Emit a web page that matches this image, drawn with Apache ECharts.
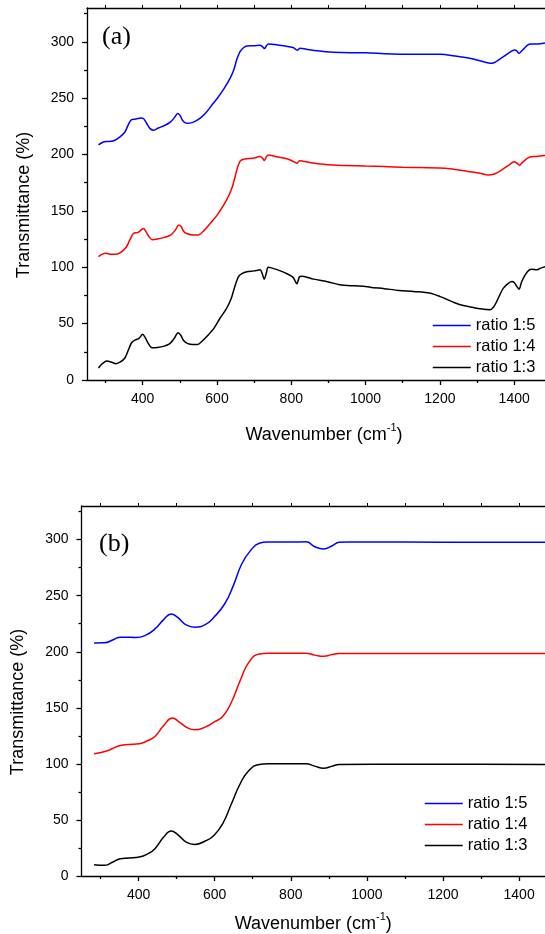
<!DOCTYPE html>
<html>
<head>
<meta charset="utf-8">
<script src="https://cdn.jsdelivr.net/npm/echarts@6/dist/echarts.min.js"></script>
<style>
  html, body { margin: 0; padding: 0; background: #fff; }
  #main { width: 545px; height: 934px; }
</style>
</head>
<body>
<div id="main"></div>
<script>
// 图例名称
var seriesNames = ['ratio 1:5', 'ratio 1:4', 'ratio 1:3'];
var seriesColors = ['#0000ff', '#ff0000', '#000000'];

// 刻度
var xMajorTicks = [400, 600, 800, 1000, 1200, 1400];
var xMinorTicks = [300, 500, 700, 900, 1100, 1300];
var xTopTicks = [300, 400, 500, 600, 700, 800, 900, 1000, 1100, 1200, 1300, 1400];
var yMajorTicks = [0, 50, 100, 150, 200, 250, 300];
var yMinorTicks = [25, 75, 125, 175, 225, 275, 325];

// (a) 数据 [波数, 透过率]
var aRatio15 = [[281,208.5],[290,210.5],[300,211.5],[320,212],[338,215.5],[352,220],[362,227],[370,231],[382,231.5],[395,232.5],[402,232],
  [410,228],[420,223],[430,221.5],[442,223.5],[460,226],[475,229],[486,233],[494,236.5],[500,235],[508,230],[518,227.7],[535,228.5],
  [554,232],[570,237],[590,245.5],[601,250],[618,258],[635,267.5],[645,275],[653,284],[662,291.3],[672,295],[680,296.3],[700,296.5],
  [716,297],[723,295.5],[728,294],[733,296.5],[738,298],[760,297.5],[780,296.5],[805,295],[811,293.5],[816,292.5],[824,294.3],
  [840,293.5],[870,292],[913,290.7],[960,290.3],[1000,290.3],[1050,289.5],[1100,289],[1147,289],[1201,289],[1240,287.5],[1280,285.5],
  [1310,283],[1340,281],[1365,285.5],[1385,290],[1401,292.8],[1407,292],[1413,289.8],[1422,292.5],[1443,298],[1460,298],[1484,299]];
var aRatio14 = [[281,109.5],[290,111.5],[300,112.5],[315,111.5],[328,111.5],[342,113.5],[355,117.5],[365,124],[375,130],[388,131],
  [402,134.5],[408,132],[415,128],[425,124.5],[440,125],[458,126.5],[475,128.5],[488,133],[497,137.5],[504,136],[510,132],[518.5,130],
  [535,128.7],[549,128.7],[565,132.5],[581,138.6],[600,146],[626,159.8],[640,170],[650,182],[656,189.3],[663,194.5],[675,196],
  [700,197],[716,198.2],[722,197],[727.5,194.7],[733,198],[738,199.7],[760,198],[790,196],[808,193.5],[815,192.3],[822,194.5],
  [850,193],[880,191.7],[913,190.8],[1000,189.8],[1050,189.3],[1100,188.8],[1147,188.4],[1215,187.8],[1250,186.3],[1275,185],
  [1308,183.4],[1330,181.8],[1345,182.5],[1365,186],[1385,190.5],[1400,193.5],[1407,192.5],[1414,190.5],[1422,193],[1440,197.5],
  [1460,198.3],[1484,199.2]];
var aRatio13 = [[281,10.5],[288,13.5],[295,15.5],[303,16.8],[315,16],[328,14.5],[340,16],[352,19.5],[362,27],[370,33],[380,35.5],
  [390,37],[400,40.5],[406,38],[414,33],[425,28.5],[440,28.8],[456,29.8],[472,32],[485,37],[495,42],[502,40],[510,35],[520,32.5],
  [535,31.5],[548,31.5],[560,34.5],[575,39.5],[592,46],[608,54.8],[625,63],[638,72],[648,83],[658,91.7],[668,94.5],[680,96],
  [700,96.8],[716,97.7],[722,94],[727,89.4],[733,95],[738,100.1],[765,97.5],[790,94],[805,91],[810,88],[815,85.3],[822,91.5],
  [830,92],[860,89.5],[900,87],[930,84.5],[970,83.5],[1000,83],[1012,82.3],[1050,81],[1090,79.5],[1129,78.5],[1174,77],[1201,74],
  [1219,71.5],[1240,68.5],[1263,66],[1290,64.3],[1308,63.2],[1335,62.3],[1345,65],[1353,69.6],[1362,76],[1371,81.5],[1385,86],
  [1394,87.3],[1400,86.5],[1407,83],[1413,80.5],[1420,87],[1430,93.5],[1440,97.5],[1448,98.3],[1461,97.7],[1470,99],[1484,100.5]];

// (b) 数据
var bRatio15 = [[283,207.9],[310,208],[335,211],[352,213],[365,213],[393,212.7],[420,215],[443,220.4],[466,228.7],[486,233.7],
  [502,230.8],[525,224],[548,221.9],[575,224.2],[598,230.8],[626,242.6],[649,259],[671,278.3],[694,290.2],[717,296.7],[740,297.8],
  [804,297.8],[840,298.1],[863,293.7],[886,291.7],[909,294.6],[927,297.6],[950,297.9],[1100,297.8],[1300,297.7],[1469,297.6]];
var bRatio14 = [[283,109],[320,112],[352,116.4],[374,117.3],[402,118],[425,120.9],[443,124.4],[466,134.2],[489,141],[507,137.2],
  [530,131.9],[548,130.4],[575,132.8],[598,137.2],[621,142.3],[644,155],[667,174.3],[690,190.7],[717,198.1],[740,198.7],[840,198.7],
  [863,197],[886,196],[909,197.5],[927,198.4],[1100,198.5],[1300,198.4],[1469,198.4]];
var bRatio13 = [[283,10.1],[310,9.5],[330,12],[352,15.4],[374,16],[402,16.9],[425,19.9],[443,24.4],[466,34.7],[486,40.1],[502,37.1],
  [525,30.3],[548,28.2],[575,31.2],[598,36.2],[621,46.6],[644,64.4],[667,82.3],[690,94.1],[717,99.5],[740,100.1],[840,100.1],
  [863,98],[886,96.2],[909,98],[927,99.5],[1100,99.6],[1300,99.6],[1469,99.5]];

var font = 'Liberation Sans';
var axisColor = '#000';

function plainLabel(v) {
    return String(v);
}

function makeXAxes(grid, min, max, shift) {
    return [
        {   // 主刻度 + 标签
            gridIndex: grid, type: 'value', min: min, max: max, position: 'bottom',
            axisLine: { show: true, lineStyle: { color: axisColor, width: 1.3 } },
            axisTick: { show: true, length: 5, customValues: xMajorTicks, lineStyle: { color: axisColor, width: 1.3 } },
            axisLabel: { customValues: xMajorTicks, formatter: plainLabel, fontSize: 14, fontFamily: font, color: '#000', margin: 12 },
            splitLine: { show: false },
            name: '{t|Wavenumber (cm}{s|-1}{t|)}',
            nameLocation: 'middle',
            nameGap: shift.gap,
            nameTextStyle: {
                padding: [0, 0, 0, shift.pad],
                rich: {
                    t: { fontSize: 18, fontFamily: font, color: '#000', lineHeight: 22, verticalAlign: 'bottom' },
                    s: { fontSize: 11, fontFamily: font, color: '#000', lineHeight: 22, verticalAlign: 'top', padding: [0, 0, 10, 0] }
                }
            }
        },
        {   // 次刻度
            gridIndex: grid, type: 'value', min: min, max: max, position: 'bottom',
            axisLine: { show: false },
            axisTick: { show: true, length: 3, customValues: xMinorTicks, lineStyle: { color: axisColor, width: 1.3 } },
            axisLabel: { show: false },
            splitLine: { show: false }
        },
        {   // 顶部边框
            gridIndex: grid, type: 'value', min: min, max: max, position: 'top',
            axisLine: { show: true, lineStyle: { color: axisColor, width: 1.3 } },
            axisTick: { show: true, length: 3, customValues: xTopTicks, lineStyle: { color: axisColor, width: 1 } },
            axisLabel: { show: false },
            splitLine: { show: false }
        }
    ];
}

function makeYAxes(grid) {
    return [
        {
            gridIndex: grid, type: 'value', min: 0, max: 330, position: 'left',
            axisLine: { show: true, lineStyle: { color: axisColor, width: 1.3 } },
            axisTick: { show: true, length: 5, customValues: yMajorTicks, lineStyle: { color: axisColor, width: 1.3 } },
            axisLabel: { customValues: yMajorTicks, formatter: plainLabel, fontSize: 14, fontFamily: font, color: '#000', margin: 13 },
            splitLine: { show: false },
            name: 'Transmittance (%)',
            nameLocation: 'middle',
            nameGap: 54,
            nameTextStyle: { fontSize: 18, fontFamily: font, color: '#000', padding: [0, 22, 0, 0] }
        },
        {
            gridIndex: grid, type: 'value', min: 0, max: 330, position: 'left',
            axisLine: { show: false },
            axisTick: { show: true, length: 3, customValues: yMinorTicks, lineStyle: { color: axisColor, width: 1.3 } },
            axisLabel: { show: false },
            splitLine: { show: false }
        }
    ];
}

function makeSeries(xIdx, yIdx, dataList, smooth) {
    return dataList.map(function (d, i) {
        return {
            name: seriesNames[i],
            type: 'line',
            xAxisIndex: xIdx,
            yAxisIndex: yIdx,
            symbol: 'none',
            smooth: smooth,
            color: seriesColors[i],
            lineStyle: { width: 1.5, color: seriesColors[i] },
            data: d
        };
    });
}

function makeLegend(left, top) {
    return {
        orient: 'vertical',
        left: left,
        top: top,
        itemWidth: 38,
        itemHeight: 14,
        itemGap: 4,
        padding: 0,
        selectedMode: false,
        data: seriesNames,
        itemStyle: { opacity: 0 },
        lineStyle: { width: 1.5 },
        textStyle: { fontSize: 16.5, fontFamily: font, color: '#000' }
    };
}

var chart = echarts.init(document.getElementById('main'), null, { renderer: 'canvas' });
var option = {
    backgroundColor: '#fff',
    animation: false,
    grid: [
        { left: 87, top: 8, width: 458, height: 372 },
        { left: 81.5, top: 506, width: 463.5, height: 370 }
    ],
    xAxis: makeXAxes(0, 250, 1483, { gap: 42, pad: 16 }).concat(makeXAxes(1, 250, 1468, { gap: 35, pad: 0 })),
    yAxis: makeYAxes(0).concat(makeYAxes(1)),
    legend: [makeLegend(432, 317), makeLegend(424, 795)],
    graphic: [
        { type: 'text', x: 102, y: 37, style: { text: '(a)', fontSize: 26, fontFamily: 'Liberation Serif', fill: '#000', verticalAlign: 'middle' } },
        { type: 'text', x: 99, y: 544, style: { text: '(b)', fontSize: 26, fontFamily: 'Liberation Serif', fill: '#000', verticalAlign: 'middle' } }
    ],
    series: makeSeries(0, 0, [aRatio15, aRatio14, aRatio13], 0.3).concat(makeSeries(3, 2, [bRatio15, bRatio14, bRatio13], 0.5))
};
chart.setOption(option);
</script>
</body>
</html>
